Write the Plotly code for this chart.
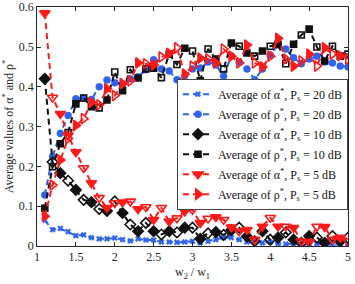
import plotly.graph_objects as go

ratio = [1.1, 1.2, 1.3, 1.4, 1.5, 1.6, 1.7, 1.8, 1.9, 2.0,
         2.1, 2.2, 2.3, 2.4, 2.5, 2.6, 2.7, 2.8, 2.9, 3.0,
         3.1, 3.2, 3.3, 3.4, 3.5, 3.6, 3.7, 3.8, 3.9, 4.0,
         4.1, 4.2, 4.3, 4.4, 4.5, 4.6, 4.7, 4.8, 4.9, 5.0]

alpha_20 = [0.065, 0.041, 0.044, 0.036, 0.026, 0.028, 0.021, 0.018, 0.018, 0.020,
            0.016, 0.013, 0.018, 0.015, 0.015, 0.010, 0.010, 0.009, 0.010, 0.012,
            0.008, 0.012, 0.016, 0.021, 0.021, 0.016, 0.010, 0.012, 0.008, 0.010,
            0.006, 0.005, 0.006, 0.004, 0.005, 0.006, 0.004, 0.004, 0.005, 0.004]

rho_20 = [0.128, 0.225, 0.283, 0.328, 0.370, 0.372, 0.368, 0.400, 0.417, 0.410,
          0.405, 0.420, 0.425, 0.443, 0.468, 0.445, 0.440, 0.418, 0.428, 0.445,
          0.447, 0.462, 0.455, 0.427, 0.478, 0.462, 0.445, 0.418, 0.445, 0.480,
          0.505, 0.495, 0.473, 0.458, 0.470, 0.477, 0.462, 0.460, 0.452, 0.450]

alpha_10 = [0.420, 0.211, 0.183, 0.164, 0.141, 0.116, 0.110, 0.093, 0.088, 0.112,
            0.083, 0.054, 0.037, 0.058, 0.037, 0.029, 0.037, 0.034, 0.046, 0.046,
            0.018, 0.032, 0.035, 0.028, 0.040, 0.046, 0.024, 0.012, 0.037, 0.016,
            0.021, 0.034, 0.016, 0.008, 0.025, 0.021, 0.008, 0.025, 0.012, 0.021]

rho_10 = [0.095, 0.199, 0.257, 0.285, 0.357, 0.372, 0.350, 0.347, 0.367, 0.437,
          0.390, 0.443, 0.422, 0.445, 0.447, 0.423, 0.482, 0.456, 0.497, 0.490,
          0.415, 0.495, 0.470, 0.445, 0.510, 0.502, 0.485, 0.477, 0.490, 0.502,
          0.507, 0.458, 0.507, 0.530, 0.545, 0.500, 0.465, 0.502, 0.477, 0.482]

alpha_5 = [0.585, 0.373, 0.332, 0.278, 0.236, 0.196, 0.158, 0.121, 0.096, 0.108,
           0.110, 0.112, 0.093, 0.098, 0.066, 0.096, 0.062, 0.070, 0.087, 0.091,
           0.058, 0.069, 0.073, 0.066, 0.047, 0.037, 0.041, 0.016, 0.049, 0.071,
           0.049, 0.049, 0.046, 0.012, 0.010, 0.049, 0.048, 0.016, 0.021, 0.012]

rho_5 = [0.075, 0.153, 0.216, 0.270, 0.303, 0.320, 0.361, 0.355, 0.395, 0.378,
         0.408, 0.415, 0.460, 0.458, 0.455, 0.475, 0.484, 0.498, 0.432, 0.452,
         0.472, 0.470, 0.460, 0.495, 0.477, 0.460, 0.505, 0.460, 0.450, 0.477,
         0.522, 0.470, 0.452, 0.465, 0.482, 0.452, 0.498, 0.482, 0.478, 0.470]

x_ticks = [1, 1.5, 2, 2.5, 3, 3.5, 4, 4.5, 5]
x_tick_labels = ["1", "1.5", "2", "2.5", "3", "3.5", "4", "4.5", "5"]
y_ticks = [0, 0.1, 0.2, 0.3, 0.4, 0.5, 0.6]
y_tick_labels = ["0", "0.1", "0.2", "0.3", "0.4", "0.5", "0.6"]

names = [
    "Average of α<sup>*</sup>, P<sub>s</sub> = 20 dB",
    "Average of ρ<sup>*</sup>, P<sub>s</sub> = 20 dB",
    "Average of α<sup>*</sup>, P<sub>s</sub> = 10 dB",
    "Average of ρ<sup>*</sup>, P<sub>s</sub> = 10 dB",
    "Average of α<sup>*</sup>, P<sub>s</sub> = 5 dB",
    "Average of ρ<sup>*</sup>, P<sub>s</sub> = 5 dB",
]

BLUE = "#2f62ee"
RED = "#ff1a1a"
BLACK = "#111111"

styles = [
    (alpha_20, BLUE, "x", 5, False),
    (rho_20, BLUE, "circle", 7, False),
    (alpha_10, BLACK, "diamond", 8, True),
    (rho_10, BLACK, "square", 6, True),
    (alpha_5, RED, "triangle-down", 9, True),
    (rho_5, RED, "triangle-right", 9, True),
]

SERIF = "Liberation Serif, Times New Roman, serif"

fig = go.Figure()
for i, (vals, col, sym, size, alt) in enumerate(styles):
    if alt:
        symbols = [sym if k % 2 == 0 else sym + "-open" for k in range(len(vals))]
    else:
        symbols = sym
    fig.add_trace(go.Scatter(
        x=ratio, y=vals, mode="lines+markers", name=names[i],
        legendgroup=f"g{i}",
        line=dict(color=col, width=2, dash="6px,4px"),
        marker=dict(symbol=symbols, size=size, color=col,
                    line=dict(color=col, width=1.6 if alt else 0.5)),
    ))

axis_font = dict(family=SERIF, size=12, color="#262626")

fig.update_layout(
    width=355, height=284,
    margin=dict(l=37, r=7, t=7, b=38, autoexpand=False),
    paper_bgcolor="white", plot_bgcolor="white",
    font=dict(family=SERIF, size=12, color="#262626"),
    showlegend=True,
    legend=dict(
        x=1.0, xanchor="right", y=0.70, yanchor="top",
        bgcolor="white", bordercolor="#444444", borderwidth=1,
        font=dict(family=SERIF, size=12, color="#111111"),
        tracegroupgap=1, traceorder="grouped",
    ),
    xaxis=dict(
        range=[1, 5], tickvals=x_ticks, ticktext=x_tick_labels,
        ticks="inside", ticklen=4, tickcolor="#262626", tickwidth=0.8,
        showline=True, linecolor="#262626", linewidth=0.8, mirror="ticks",
        showgrid=False, zeroline=False, tickfont=axis_font, automargin=False,
        title=dict(text="w<sub>2</sub> / w<sub>1</sub>", font=dict(family=SERIF, size=12), standoff=4),
    ),
    yaxis=dict(
        range=[0, 0.6005], tickvals=y_ticks, ticktext=y_tick_labels,
        ticks="inside", ticklen=4, tickcolor="#262626", tickwidth=0.8,
        showline=True, linecolor="#262626", linewidth=0.8, mirror="ticks",
        showgrid=False, zeroline=False, tickfont=axis_font, automargin=False,
        title=dict(text="Average values of α<sup>*</sup> and ρ<sup>*</sup>", font=dict(family=SERIF, size=12), standoff=2),
    ),
)

fig.write_html(
    "out.html",
    config={"displayModeBar": False},
    post_script="document.body.style.margin='0px';document.body.style.overflow='hidden';",
)
